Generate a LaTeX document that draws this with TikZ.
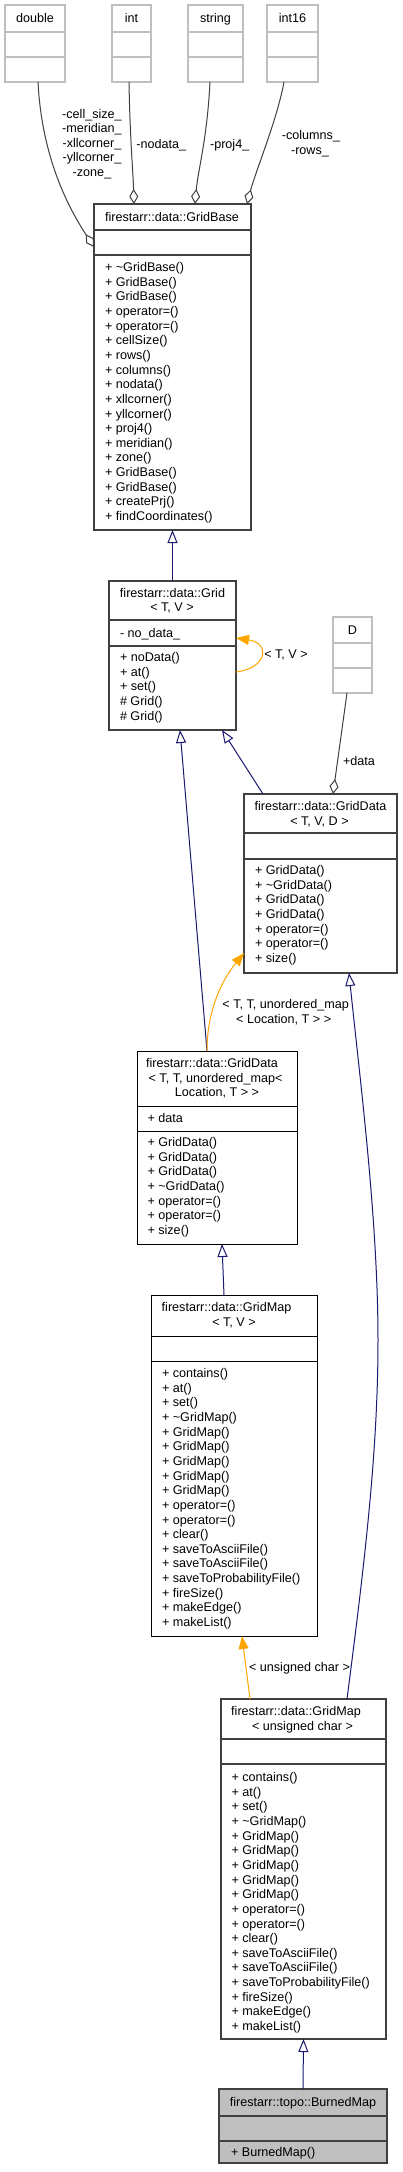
\documentclass[tikz,border=0pt]{standalone}
\usepackage{fontspec}
\setmainfont{Liberation Sans}
\usetikzlibrary{arrows.meta,calc}
\definecolor{cnavy}{HTML}{191970}
\definecolor{corange}{HTML}{FFA500}
\definecolor{cdark}{HTML}{404040}
\definecolor{cgray}{HTML}{BFBFBF}
\newcommand\fs{\fontsize{12.6}{14.65}\selectfont}
\tikzset{
  boxbase/.style={inner sep=0pt, outer sep=0pt, fill=white},
  clsthick/.style={boxbase, draw=cdark, line width=1.5pt},
  clsthin/.style={boxbase, draw=black, line width=1pt},
  clsgray/.style={boxbase, draw=cgray, line width=1.5pt},
  clsfilled/.style={boxbase, draw=cdark, line width=1.5pt, fill=cgray},
  txt/.style={inner sep=0pt, outer sep=0pt, anchor=base west, font=\fs},
  ttl/.style={inner sep=0pt, outer sep=0pt, anchor=base, font=\fs},
  inh/.style={draw=cnavy, line width=1pt, -{Triangle[open, length=13pt, width=10pt]}},
  tmpl/.style={draw=corange, line width=1pt, -{Triangle[length=13pt, width=10pt]}},
  agg/.style={draw=cdark, line width=1pt, -{Diamond[open, length=15pt, width=9pt]}},
}
% #1 name, #2 style, #3 x1, #4 ytop, #5 x2, #6 ybot
\newcommand\cls[6]{\node[#2, minimum width={#5-#3}, minimum height={#6-#4}, anchor=north west] (#1) at (#3,#4) {};}
% #1 name, #2 y1, #3 y2, #4 style
\newcommand\seps[4]{\draw[#4] (#1.west |- 0,#2) -- (#1.east |- 0,#2); \draw[#4] (#1.west |- 0,#3) -- (#1.east |- 0,#3);}
% #1 prefix, #2 x, #3 y0, #4 list
\newcommand\members[4]{\foreach \m [count=\i from 0] in {#4} {\node[txt] (#1\i) at (#2,{#3+\i*14.65}) {\m};}}
\begin{document}
\begin{tikzpicture}[x=1pt, y=-1pt]
\useasboundingbox (0,0) rectangle (403,2172);
\fill[white] (0,0) rectangle (403,2172);

% ---------- type boxes ----------
\cls{db}{clsgray}{5}{5}{65}{82}
\seps{db}{32}{57}{cgray, line width=1.5pt}
\node[ttl] (dbt) at (35,22) {double};
\cls{it}{clsgray}{112}{5}{151}{82}
\seps{it}{32}{57}{cgray, line width=1.5pt}
\node[ttl] (itt) at (131.5,22) {int};
\cls{st}{clsgray}{188}{5}{243}{82}
\seps{st}{32}{57}{cgray, line width=1.5pt}
\node[ttl] (stt) at (215.5,22) {string};
\cls{i16}{clsgray}{267}{5}{318}{82}
\seps{i16}{32}{57}{cgray, line width=1.5pt}
\node[ttl] (i16t) at (292.5,22) {int16};

% ---------- GridBase ----------
\cls{gb}{clsthick}{94}{204}{251}{530}
\seps{gb}{230}{255}{cdark, line width=1.5pt}
\node[ttl] (gbt) at (172,221) {firestarr::data::GridBase};
\members{gbm}{105}{271.5}{+ \textasciitilde GridBase(), + GridBase(), + GridBase(), + operator=(), + operator=(), + cellSize(), + rows(), + columns(), + nodata(), + xllcorner(), + yllcorner(), + proj4(), + meridian(), + zone(), + GridBase(), + GridBase(), + createPrj(), + findCoordinates()}

% ---------- Grid ----------
\cls{gr}{clsthick}{109}{581}{236}{730}
\seps{gr}{620}{646}{cdark, line width=1.5pt}
\node[ttl] (grt1) at (172.5,597) {firestarr::data::Grid};
\node[ttl] (grt2) at (172,611.6) {< T, V >};
\node[txt] (gra) at (120,637.5) {- no\_data\_};
\members{grm}{120}{661.5}{+ noData(), + at(), + set(), \# Grid(), \# Grid()}

% ---------- D ----------
\cls{dd}{clsgray}{333}{617}{372}{693}
\seps{dd}{643}{668}{cgray, line width=1.5pt}
\node[ttl] (ddt) at (352.5,634) {D};

% ---------- GridData<T,V,D> ----------
\cls{gd}{clsthick}{244}{794}{397}{973}
\seps{gd}{833}{859}{cdark, line width=1.5pt}
\node[ttl] (gdt1) at (320.5,810.5) {firestarr::data::GridData};
\node[ttl] (gdt2) at (319.5,825.2) {< T, V, D >};
\members{gdm}{255}{874.5}{+ GridData(), + \textasciitilde GridData(), + GridData(), + GridData(), + operator=(), + operator=(), + size()}

% ---------- GridData<T,T,unordered_map> ----------
\cls{gt}{clsthin}{137}{1051}{297}{1244}
\seps{gt}{1106}{1131}{black, line width=1pt}
\node[ttl] (gtt1) at (212,1067.5) {firestarr::data::GridData};
\node[ttl] (gtt2) at (215.5,1082.2) {< T, T, unordered\_map<};
\node[ttl] (gtt3) at (217,1096.9) {Location, T > >};
\node[txt] (gta) at (147.5,1122.5) {+ data};
\members{gtm}{147.5}{1146.5}{+ GridData(), + GridData(), + GridData(), + \textasciitilde GridData(), + operator=(), + operator=(), + size()}

% ---------- GridMap<T,V> ----------
\cls{gm}{clsthin}{151}{1295}{317}{1636}
\seps{gm}{1336}{1361}{black, line width=1pt}
\node[ttl] (gmt1) at (226.5,1311.8) {firestarr::data::GridMap};
\node[ttl] (gmt2) at (234,1326.5) {< T, V >};
\members{gmm}{162}{1377.5}{+ contains(), + at(), + set(), + \textasciitilde GridMap(), + GridMap(), + GridMap(), + GridMap(), + GridMap(), + GridMap(), + operator=(), + operator=(), + clear(), + saveToAsciiFile(), + saveToAsciiFile(), + saveToProbabilityFile(), + fireSize(), + makeEdge(), + makeList()}

% ---------- GridMap<unsigned char> ----------
\cls{gu}{clsthick}{221}{1699}{386}{2039}
\seps{gu}{1739}{1764}{cdark, line width=1.5pt}
\node[ttl] (gut1) at (296,1715.8) {firestarr::data::GridMap};
\node[ttl] (gut2) at (302.5,1730.5) {< unsigned char >};
\members{gum}{231.5}{1781.5}{+ contains(), + at(), + set(), + \textasciitilde GridMap(), + GridMap(), + GridMap(), + GridMap(), + GridMap(), + GridMap(), + operator=(), + operator=(), + clear(), + saveToAsciiFile(), + saveToAsciiFile(), + saveToProbabilityFile(), + fireSize(), + makeEdge(), + makeList()}

% ---------- BurnedMap ----------
\cls{bm}{clsfilled}{219}{2089}{387}{2163}
\seps{bm}{2116}{2141}{cdark, line width=1.5pt}
\node[ttl] (bmt) at (303,2106.5) {firestarr::topo::BurnedMap};
\node[txt] (bmm) at (231,2156.5) {+ BurnedMap()};

% ---------- aggregation edges ----------
\draw[agg] ($(db.south)+(3,0)$) .. controls (42,160) and (70,210) .. (gb.west |- 0,247);
\draw[agg] ($(it.south)+(-2.5,0)$) .. controls (130,140) and (133,170) .. ($(gb.north west)+(40,0)$);
\draw[agg] ($(st.south)+(-5.5,0)$) .. controls (207,140) and (198,170) .. ($(gb.north west)+(101,0)$);
\draw[agg] ($(i16.south)+(-8.5,0)$) .. controls (277,120) and (256,170) .. ($(gb.north west)+(153,0)$);
\draw[agg] ($(dd.south)+(-5.5,0)$) -- ($(gd.north west)+(89,0)$);

\foreach \t [count=\i from 0] in {-cell\_size\_, -meridian\_, -xllcorner\_, -yllcorner\_, -zone\_}
  {\node[ttl] (la\i) at (92,{118+\i*14.65}) {\t};}
\node[ttl] (lnd) at (161.3,148.5) {-nodata\_};
\node[ttl] (lpj) at (229.7,148.5) {-proj4\_};
\node[ttl] (lcl) at (311,139.5) {-columns\_};
\node[ttl] (lrw) at (310,154.2) {-rows\_};
\node[ttl] (ldt) at (359,765.5) {+data};

% ---------- inheritance edges ----------
\draw[inh] (gr.north) -- (gb.south);
\draw[inh] ($(gd.north west)+(19,0)$) -- ($(gr.south west)+(113,0)$);
\draw[inh] ($(gt.north west)+(70,0)$) -- ($(gr.south west)+(71,0)$);
\draw[inh] ($(gm.north west)+(73,0)$) -- ($(gt.south west)+(85,0)$);
\draw[inh] ($(gu.north west)+(126,0)$) .. controls (365,1560) and (378,1450) .. (378,1340) .. controls (378,1220) and (360,1080) .. ($(gd.south west)+(105,0)$);
\draw[inh] (bm.north) -- (gu.south);

% ---------- template instantiation edges ----------
\draw[tmpl] (gr.east |- 0,672) .. controls (268,668) and (270,643) .. (gr.east |- 0,638);
\node[ttl] (lself) at (286,658) {< T, V >};
\draw[tmpl] ($(gt.north west)+(70,0)$) .. controls (207,1010) and (222,980) .. (gd.west |- 0,953);
\node[ttl] (lum1) at (285.7,1008.5) {< T, T, unordered\_map};
\node[ttl] (lum2) at (283.7,1023.2) {< Location, T > >};
\draw[tmpl] ($(gu.north west)+(29,0)$) -- ($(gm.south west)+(91,0)$);
\node[ttl] (luc) at (299.5,1671.5) {< unsigned char >};
\end{tikzpicture}
\end{document}
